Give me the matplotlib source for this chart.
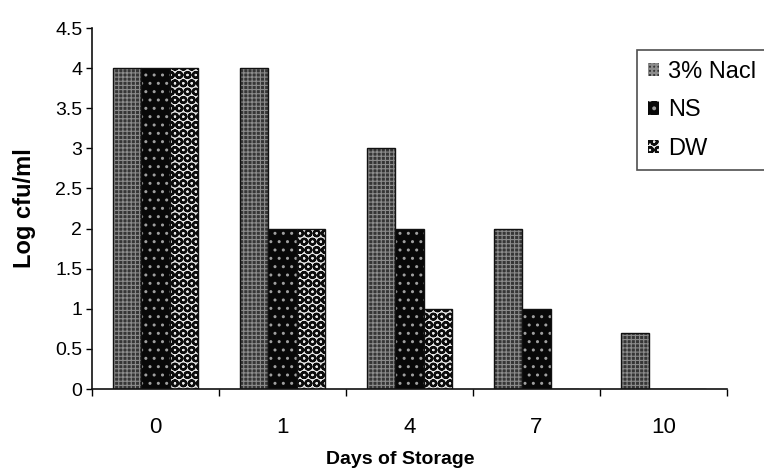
import matplotlib
matplotlib.use("Agg")
import matplotlib.pyplot as plt
import matplotlib.patches as mpatches
import numpy as np

categories = ["0", "1", "4", "7", "10"]
series_names = ["3% Nacl", "NS", "DW"]
nacl = [4, 4, 3, 2, 0.7]
ns = [4, 2, 2, 1, 0]
dw = [4, 2, 1, 0, 0]
yticks = [0, 0.5, 1, 1.5, 2, 2.5, 3, 3.5, 4, 4.5]
ytick_labels = ["0", "0.5", "1", "1.5", "2", "2.5", "3", "3.5", "4", "4.5"]

plt.rcParams['font.family'] = ['Liberation Sans', 'DejaVu Sans']

fig = plt.figure(figsize=(7.64, 4.71), dpi=100)
ax = fig.add_axes([92/764, 1-389/471, (727-92)/764, (389-28)/471])

x = np.arange(len(categories))
w = 1/4.5
styles = [
    dict(face="#363636", hatch="++++", hcolor="#8c8c8c", hlw=0.8),
    dict(face="#080808", hatch="..", hcolor="#a0a0a0", hlw=1.0),
    dict(face="#e8e8e8", hatch="OO", hcolor="#0c0c0c", hlw=1.6),
]
handles = []
for i, (vals, st, name) in enumerate(zip([nacl, ns, dw], styles, series_names)):
    pos = x + (i - 1) * w
    ax.bar(pos, vals, w, color=st["face"], linewidth=0)
    plt.rcParams['hatch.linewidth'] = st["hlw"]
    ax.bar(pos, vals, w, facecolor="none", edgecolor=st["hcolor"], hatch=st["hatch"], linewidth=0)
    ax.bar(pos, vals, w, facecolor="none", edgecolor="#111111", linewidth=1.0)
    h = mpatches.Patch(facecolor=st["face"], edgecolor=st["hcolor"], hatch=st["hatch"], linewidth=0)
    handles.append(h)

ax.set_xlim(-0.5, len(categories) - 0.5)
ax.set_ylim(0, 4.5)
ax.set_yticks(yticks)
ax.set_yticklabels(ytick_labels, fontsize=14)
ax.tick_params(axis='y', direction='out', length=4, width=1, pad=3)

ax.set_xticks(np.arange(len(categories) + 1) - 0.5)
ax.set_xticklabels([""] * (len(categories) + 1))
ax.tick_params(axis='x', which='major', direction='out', length=5, width=1)
ax.set_xticks(x, minor=True)
ax.set_xticklabels(categories, minor=True, fontsize=16)
ax.tick_params(axis='x', which='minor', length=0, pad=20)

for s in ["top", "right"]:
    ax.spines[s].set_visible(False)
for s in ["left", "bottom"]:
    ax.spines[s].set_linewidth(1.2)
    ax.spines[s].set_color("#111111")

ax.set_ylabel("Log cfu/ml", fontsize=17, fontweight="bold", va="center")
ax.yaxis.set_label_coords((25-92)/635, 0.5)
ax.set_xlabel("Days of Storage", fontsize=14, fontweight="bold", va="center")
ax.xaxis.set_label_coords((400-92)/635, (389-460)/361)

leg = fig.legend(handles, series_names, loc="upper left", bbox_to_anchor=(637/764, 1-50/471),
                 fontsize=17, handlelength=0.5, handleheight=0.5, handletextpad=0.35,
                 labelspacing=0.7, borderpad=0.45, borderaxespad=0, frameon=True, fancybox=False)
leg.get_frame().set_edgecolor("#222222")
leg.get_frame().set_linewidth(1.2)

fig.savefig("out.png", dpi=100)
